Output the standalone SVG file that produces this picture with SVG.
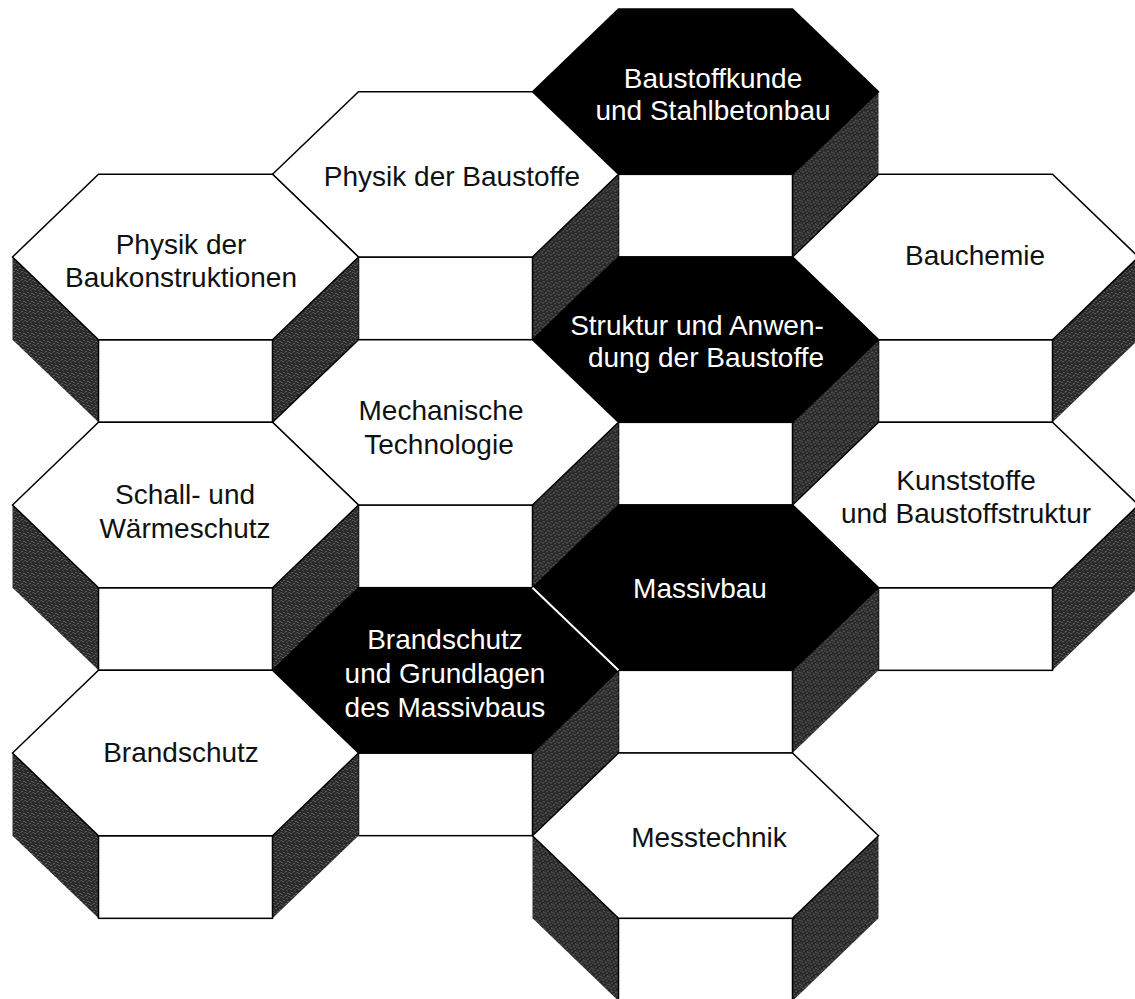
<svg xmlns="http://www.w3.org/2000/svg" xmlns:xlink="http://www.w3.org/1999/xlink" width="1135" height="999" viewBox="0 0 1135 999">
  <style>
    .bg { fill: #ffffff; }
    .side { fill: url(#stipple); stroke: none; }
    .front { fill: #ffffff; stroke: #000000; stroke-width: 1.5; }
    .topw { fill: #ffffff; stroke: #000000; stroke-width: 1.5; stroke-linejoin: miter; }
    .topb { fill: #000000; stroke: #000000; stroke-width: 1.5; }
    .split { stroke: #ffffff; stroke-width: 2; }
    text { font-family: "Liberation Sans", Arial, Helvetica, sans-serif; font-size: 28px; text-anchor: middle; }
    .tb { fill: #111111; }
    .tw { fill: #ffffff; }
  </style>
  <defs>
    <pattern id="stipple" width="8" height="8" patternUnits="userSpaceOnUse">
      <rect width="8" height="8" fill="#2a2a2a"/>
      <rect x="1" y="0" width="1" height="1" fill="#8e8e8e"/>
      <rect x="5" y="1" width="1" height="1" fill="#7a7a7a"/>
      <rect x="2" y="3" width="1" height="1" fill="#8e8e8e"/>
      <rect x="6" y="4" width="1" height="1" fill="#9a9a9a"/>
      <rect x="0" y="5" width="1" height="1" fill="#7a7a7a"/>
      <rect x="4" y="6" width="1" height="1" fill="#8e8e8e"/>
      <rect x="7" y="7" width="1" height="1" fill="#6e6e6e"/>
      <rect x="3" y="7" width="1" height="1" fill="#5a5a5a"/>
    </pattern>
    <g id="base">
      <path class="side" d="M-173,0 L-87,82.67 L-87,165.33 L-173,82.67 Z"/>
      <path class="side" d="M173,0 L87,82.67 L87,165.33 L173,82.67 Z"/>
      <rect class="front" x="-87" y="82.67" width="174" height="82.67"/>
    </g>
    <path id="hex" d="M-173,0 L-87,-82.67 L87,-82.67 L173,0 L87,82.67 L-87,82.67 Z"/>
  </defs>
  <rect class="bg" x="0" y="0" width="1135" height="999"/>

  <g id="baustoffkunde">
    <use xlink:href="#base" transform="translate(705.5,91.67)"/>
    <use xlink:href="#hex" class="topb" transform="translate(705.5,91.67)"/>
    <text class="tw" x="713" y="88">Baustoffkunde</text>
    <text class="tw" x="713" y="120">und Stahlbetonbau</text>
  </g>

  <g id="physik-baustoffe">
    <use xlink:href="#base" transform="translate(445.5,174.33)"/>
    <use xlink:href="#hex" class="topw" transform="translate(445.5,174.33)"/>
    <text class="tb" x="452" y="186">Physik der Baustoffe</text>
  </g>

  <g id="physik-baukonstruktionen">
    <use xlink:href="#base" transform="translate(185.5,257)"/>
    <use xlink:href="#hex" class="topw" transform="translate(185.5,257)"/>
    <text class="tb" x="181" y="254">Physik der</text>
    <text class="tb" x="181" y="287">Baukonstruktionen</text>
  </g>

  <g id="bauchemie">
    <use xlink:href="#base" transform="translate(965.5,257)"/>
    <use xlink:href="#hex" class="topw" transform="translate(965.5,257)"/>
    <text class="tb" x="975" y="265">Bauchemie</text>
  </g>

  <g id="struktur">
    <use xlink:href="#base" transform="translate(705.5,339.67)"/>
    <use xlink:href="#hex" class="topb" transform="translate(705.5,339.67)"/>
    <text class="tw" x="697" y="335">Struktur und Anwen-</text>
    <text class="tw" x="706" y="367">dung der Baustoffe</text>
  </g>

  <g id="mechanische-technologie">
    <use xlink:href="#base" transform="translate(445.5,422.33)"/>
    <use xlink:href="#hex" class="topw" transform="translate(445.5,422.33)"/>
    <text class="tb" x="441" y="420">Mechanische</text>
    <text class="tb" x="439" y="454">Technologie</text>
  </g>

  <g id="schall-waermeschutz">
    <use xlink:href="#base" transform="translate(185.5,505)"/>
    <use xlink:href="#hex" class="topw" transform="translate(185.5,505)"/>
    <text class="tb" x="185" y="504">Schall- und</text>
    <text class="tb" x="185" y="538">Wärmeschutz</text>
  </g>

  <g id="kunststoffe">
    <use xlink:href="#base" transform="translate(965.5,505)"/>
    <use xlink:href="#hex" class="topw" transform="translate(965.5,505)"/>
    <text class="tb" x="966" y="490">Kunststoffe</text>
    <text class="tb" x="966" y="523">und Baustoffstruktur</text>
  </g>

  <g id="massivbau">
    <use xlink:href="#base" transform="translate(705.5,587.67)"/>
    <use xlink:href="#hex" class="topb" transform="translate(705.5,587.67)"/>
    <text class="tw" x="700" y="598">Massivbau</text>
  </g>

  <g id="brandschutz-grundlagen">
    <use xlink:href="#base" transform="translate(445.5,670.33)"/>
    <use xlink:href="#hex" class="topb" transform="translate(445.5,670.33)"/>
    <line class="split" x1="532.5" y1="587.67" x2="618.5" y2="670.33"/>
    <text class="tw" x="445" y="649">Brandschutz</text>
    <text class="tw" x="445" y="683">und Grundlagen</text>
    <text class="tw" x="445" y="717">des Massivbaus</text>
  </g>

  <g id="brandschutz">
    <use xlink:href="#base" transform="translate(185.5,753)"/>
    <use xlink:href="#hex" class="topw" transform="translate(185.5,753)"/>
    <text class="tb" x="181" y="762">Brandschutz</text>
  </g>

  <g id="messtechnik">
    <use xlink:href="#base" transform="translate(705.5,835.67)"/>
    <use xlink:href="#hex" class="topw" transform="translate(705.5,835.67)"/>
    <text class="tb" x="709" y="847">Messtechnik</text>
  </g>

  <g id="connectors"/>
</svg>
